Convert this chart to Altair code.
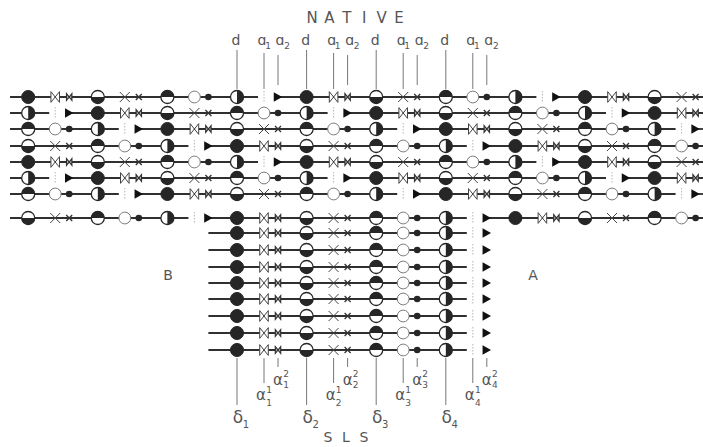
import altair as alt
import pandas as pd

W, H = 703, 447

# ---- structure of the period (drawing units = pixels of the figure) ----
X0 = 237.0            # position of delta-1 in the SLS rows
QUARTER = 69.6        # spacing between successive delta bands
SLOT_OFFSETS = [0, 27, 41]          # delta, alpha^1, alpha^2 inside a band
BAND_SYMBOLS = [
    ["delta1", "bowtie_big", "bowtie_small"],
    ["delta2", "x_big", "x_small"],
    ["delta3", "ring", "dot"],
    ["delta4", "gapmark", "triangle"],
]

# native rows: vertical position and stagger (in bands)
NATIVE_Y = [97, 113, 129, 146, 162, 178, 194, 218]
NATIVE_SHIFT = [1, 2, 3, 0, 1, 2, 3, 0]
NATIVE_SPAN = (10, 703)
# SLS rows: all in register
SLS_Y = [233, 250, 267, 283, 299, 316, 333, 350]
SLS_SHIFT = 0
SLS_SPAN = (207, 488)
SLS_SYMBOL_SPAN = (215, 492)

TOP_LABELS = ["d", "ɑ", "ɑ"]
TOP_SUBS = ["", "1", "2"]

D = 4 * QUARTER


def row_symbols(y, shift, lo, hi):
    out = []
    base = X0 + shift * QUARTER
    for k in range(-3, 4):
        for b in range(4):
            for s in range(3):
                x = base + k * D + b * QUARTER + SLOT_OFFSETS[s]
                if lo <= x <= hi:
                    out.append(dict(x=x, y=y, kind=BAND_SYMBOLS[b][s]))
    return out


def row_segments(y, shift, lo, hi):
    base = X0 + shift * QUARTER
    breaks = sorted((base + k * D + 3 * QUARTER + 21,
                     base + k * D + 3 * QUARTER + SLOT_OFFSETS[2]) for k in range(-3, 4))
    segs, cur = [], lo
    for a, b in breaks:
        if b <= lo or a >= hi:
            continue
        if a > cur:
            segs.append(dict(x=cur, x2=min(a, hi), y=y))
        cur = max(cur, b)
    if cur < hi:
        segs.append(dict(x=cur, x2=hi, y=y))
    return segs


sym, seg = [], []
for y, sh in zip(NATIVE_Y, NATIVE_SHIFT):
    sym += row_symbols(y, sh, NATIVE_SPAN[0] - 8, NATIVE_SPAN[1] + 8)
    seg += row_segments(y, sh, *NATIVE_SPAN)
for y in SLS_Y:
    sym += row_symbols(y, SLS_SHIFT, *SLS_SYMBOL_SPAN)
    seg += row_segments(y, SLS_SHIFT, *SLS_SPAN)

sym = pd.DataFrame(sym)
seg = pd.DataFrame(seg)
gap = sym[sym.kind == "gapmark"].copy()
gap["y1"] = gap.y - 6
gap["y2"] = gap.y + 6

# guide lines and labels
guides, texts = [], []
for b in range(4):
    for s in range(3):
        x = X0 + b * QUARTER + SLOT_OFFSETS[s]
        # top (native)
        top_start = [50, 53, 55][s]
        top_end = [89, 89, 85][s]
        guides.append(dict(x=x, y=top_start, y2=top_end))
        tx = x + [-1, -2, 2][s]
        texts.append(dict(x=tx, y=45, t=TOP_LABELS[s], size=14))
        if TOP_SUBS[s]:
            texts.append(dict(x=x + [0, 4, 9][s], y=49, t=TOP_SUBS[s], size=9))
        # bottom (SLS)
        bot_end = [405, 383, 367][s]
        guides.append(dict(x=x, y=358, y2=bot_end))
        band = str(b + 1)
        if s == 0:
            texts.append(dict(x=x + 1, y=423, t="δ", size=17))
            texts.append(dict(x=x + 9, y=428, t=band, size=10))
        elif s == 1:
            texts.append(dict(x=x - 3, y=400, t="α", size=15))
            texts.append(dict(x=x + 5, y=393, t="1", size=9))
            texts.append(dict(x=x + 5, y=406, t=band, size=9))
        else:
            texts.append(dict(x=x, y=385, t="α", size=15))
            texts.append(dict(x=x + 8, y=377, t="2", size=9))
            texts.append(dict(x=x + 8, y=388, t=band, size=9))

guides = pd.DataFrame(guides)

TITLE_TOP = "NATIVE"
TITLE_BOTTOM = "SLS"
for i, ch in enumerate(TITLE_TOP):
    texts.append(dict(x=312 + i * 17.4, y=23, t=ch, size=15))
for i, ch in enumerate(TITLE_BOTTOM):
    texts.append(dict(x=328 + i * 18, y=442, t=ch, size=14))
texts.append(dict(x=168, y=280, t="B", size=14))
texts.append(dict(x=533, y=280, t="A", size=14))
texts = pd.DataFrame(texts)

xs = alt.Scale(domain=[0, W], range=[0, W])
ys = alt.Scale(domain=[0, H], range=[0, H])
X = alt.X("x:Q", scale=xs, axis=None)
Y = alt.Y("y:Q", scale=ys, axis=None)

INK = "#262626"

lines = alt.Chart(seg).mark_rule(stroke="#303030", strokeWidth=1.8).encode(
    x=X, x2="x2:Q", y=Y)
guide_lines = alt.Chart(guides).mark_rule(stroke="#777777", strokeWidth=1).encode(
    x=X, y=Y, y2="y2:Q")
gap_marks = alt.Chart(gap).mark_rule(stroke="#b5b5b5", strokeWidth=1,
                                     strokeDash=[1.5, 1.5]).encode(
    x=X, y=alt.Y("y1:Q", scale=ys, axis=None), y2="y2:Q")


def layer(kind, **mk):
    return alt.Chart(sym).transform_filter(alt.datum.kind == kind).mark_point(**mk).encode(x=X, y=Y)


CIRC = 170
layers = [
    layer("delta1", shape="circle", filled=True, fill=INK, stroke=INK, strokeWidth=1, size=CIRC, opacity=1),
]
for kind, path in [("delta2", "M-1,0A1,1,0,0,0,1,0Z"),
                   ("delta3", "M-1,0A1,1,0,0,1,1,0Z"),
                   ("delta4", "M0,-1A1,1,0,0,1,0,1Z")]:
    layers.append(layer(kind, shape="circle", filled=True, fill="white", stroke=INK,
                        strokeWidth=1.3, size=CIRC, opacity=1))
    layers.append(layer(kind, shape=path, filled=True, fill=INK, strokeWidth=0,
                        size=CIRC, opacity=1))
BOW = "M-0.8,-1L0.8,1L0.8,-1L-0.8,1Z"
XX = "M-1,-1L1,1M1,-1L-1,1"
layers += [
    layer("bowtie_big", shape=BOW, filled=True, fill="white", stroke="#444444",
          strokeWidth=1, size=115, opacity=1),
    layer("bowtie_small", shape=BOW, filled=True, fill="#bbbbbb", stroke="#333333",
          strokeWidth=1.2, size=45, opacity=1),
    layer("x_big", shape=XX, filled=False, stroke="#444444", strokeWidth=1,
          size=100, opacity=1),
    layer("x_small", shape=XX, filled=False, stroke="#333333", strokeWidth=1.3,
          size=36, opacity=1),
    layer("ring", shape="circle", filled=True, fill="white", stroke="#7a7a7a",
          strokeWidth=1, size=140, opacity=1),
    layer("dot", shape="circle", filled=True, fill=INK, size=44, opacity=1),
    layer("triangle", shape="triangle-right", filled=True, fill="#111111",
          size=95, opacity=1),
]

text_layers = []
for sz in sorted(texts["size"].unique()):
    text_layers.append(
        alt.Chart(texts[texts["size"] == sz]).mark_text(
            fontSize=float(sz), font="DejaVu Sans", color="#555555",
            align="center", baseline="alphabetic").encode(x=X, y=Y, text="t:N"))

chart = alt.layer(lines, guide_lines, gap_marks, *layers, *text_layers).properties(
    width=W, height=H, padding=0, autosize=alt.AutoSizeParams(type="none"),
    background="white"
).configure_view(stroke=None)

chart.save("out.html", embed_options={"renderer": "svg", "actions": False})
